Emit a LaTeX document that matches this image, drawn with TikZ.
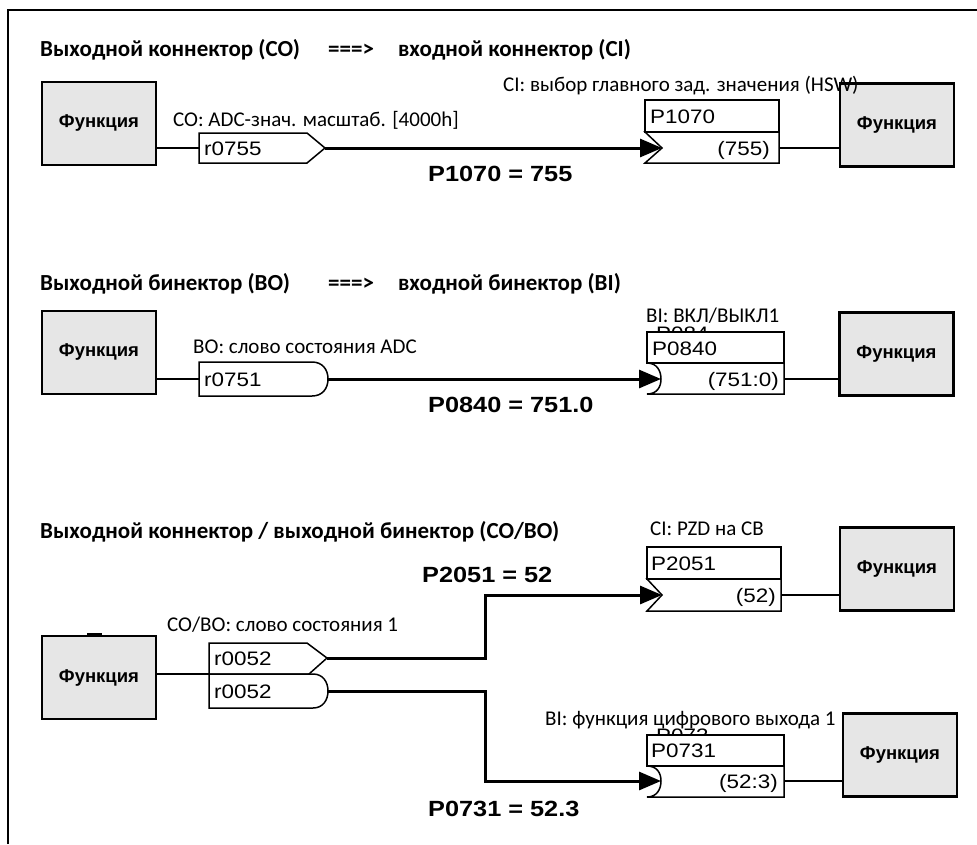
\documentclass[tikz,border=0pt]{standalone}
\usepackage{fontspec}
\setmainfont{Carlito}
\newfontfamily\arialw[FakeStretch=1.15]{Liberation Sans}
\newfontfamily\arialf{Liberation Sans}
\usetikzlibrary{arrows.meta}
\definecolor{funcgray}{RGB}{230,230,230}
\begin{document}
\begin{tikzpicture}[x=1pt,y=-1pt,
 func/.style={draw=black,line width=2.2pt,fill=funcgray,minimum width=114pt,minimum height=83pt,inner sep=0pt,font=\arialf\bfseries\fontsize{18.5}{20}\selectfont},
 conn/.style={line width=3pt},
 thinline/.style={line width=1.5pt},
 lead/.style={line width=2pt},
 pshape/.style={draw=black,line width=1.5pt,fill=white},
 arr/.style={-{Triangle[length=22pt,width=18pt]}},
 code/.style={font=\arialw\fontsize{19.5}{22}\selectfont,inner sep=0pt},
 eqn/.style={font=\arialw\bfseries\fontsize{22}{24}\selectfont,inner sep=0pt},
 lbl/.style={font=\fontsize{21}{23}\selectfont,inner sep=0pt},
 ttl/.style={font=\bfseries\fontsize{23}{25}\selectfont,inner sep=0pt},
]
\useasboundingbox (0,0) rectangle (977,844);
\fill[white] (0,0) rectangle (977,844);
% frame
\draw[line width=2.5pt] (8,844) -- (8,10) -- (977,10);

% ===== Section 1 =====
\node[ttl,anchor=base west] (t1a) at (40,56) {Выходной коннектор (CO)};
\node[ttl,anchor=base west] (t1b) at (328,56) {===>};
\node[ttl,anchor=base west] (t1c) at (398,56) {входной коннектор (CI)};

\node[func] (f1) at (99,123.5) {Функция};
\node[func] (f2) at (897,125) {Функция};

\node[lbl,anchor=base west] (l1) at (173,126) {CO: ADC-знач. масштаб. [4000h]};

\coordinate (co1in) at (199,148);
\coordinate (co1out) at (325,148);
\draw[pshape] (199,133) -- (307,133) -- (co1out) -- (307,163) -- (199,163) -- cycle;
\node[code,anchor=base west] (r1) at (204,155) {r0755};
\draw[lead] (f1.east |- co1in) -- (co1in);

\coordinate (ci1tip) at (662,148);
\coordinate (ci1out) at (779,148);
\draw[pshape] (645,100) rectangle (779,132);
\draw[pshape] (645,132) -- (779,132) -- (779,163) -- (645,163) -- (ci1tip) -- cycle;
\node[code,anchor=base west] (p1) at (650,123) {P1070};
\node[code,anchor=base east] (v1) at (770,155) {(755)};
\draw[conn,arr] (co1out) -- (ci1tip);
\draw[thinline] (ci1out) -- (f2.west |- ci1out);
\node[lbl,anchor=base west] (l2) at (503,91) {CI: выбор главного зад. значения (HSW)};
\node[eqn,anchor=base west] (e1) at (428,181) {P1070 = 755};

% ===== Section 2 =====
\node[ttl,anchor=base west] (t2a) at (40,290) {Выходной бинектор (BO)};
\node[ttl,anchor=base west] (t2b) at (328,290) {===>};
\node[ttl,anchor=base west] (t2c) at (398,290) {входной бинектор (BI)};

\node[func] (f3) at (99,352.5) {Функция};
\node[func] (f4) at (896.5,354) {Функция};

\node[lbl,anchor=base west] (l3) at (193,353) {BO: слово состояния ADC};
\coordinate (bo1in) at (199,379);
\coordinate (bo1out) at (328,379);
\draw[pshape] (199,362) -- (312,362) .. controls (322,362) and (328,369) .. (bo1out) .. controls (328,389) and (322,396) .. (312,396) -- (199,396) -- cycle;
\node[code,anchor=base west] (r2) at (204,386) {r0751};
\draw[lead] (f3.east |- bo1in) -- (bo1in);

\node[lbl,anchor=base west] (l4) at (646,322) {BI: ВКЛ/ВЫКЛ1};
\node[code,anchor=base west] (h1) at (656,340) {P084};
\coordinate (bi1tip) at (661,379);
\coordinate (bi1out) at (784,379);
\draw[pshape] (647,332) rectangle (784,363);
\draw[pshape] (647,363) -- (784,363) -- (784,394) -- (647,394) .. controls (657,394) and (661,387) .. (bi1tip) .. controls (661,371) and (657,363) .. (647,363) -- cycle;
\node[code,anchor=base west] (p2) at (652,355) {P0840};
\node[code,anchor=base east] (v2) at (779,386) {(751:0)};
\draw[conn,arr] (bo1out) -- (bi1tip);
\draw[thinline] (bi1out) -- (f4.west |- bi1out);
\node[eqn,anchor=base west] (e2) at (428,412) {P0840 = 751.0};

% ===== Section 3 =====
\node[ttl,anchor=base west] (t3) at (40,538) {Выходной коннектор / выходной бинектор (CO/BO)};

\node[func] (f5) at (99,677.5) {Функция};
\draw[line width=2pt] (87,633.5) -- (102,633.5);
\node[func] (f6) at (897,569) {Функция};
\node[func] (f7) at (900,755) {Функция};

\node[lbl,anchor=base west] (l5) at (167,631) {CO/BO: слово состояния 1};
\coordinate (co2in) at (209,674);
\coordinate (co2out) at (327,658);
\coordinate (bo2out) at (328,691);
\draw[pshape] (209,643) -- (307,643) -- (co2out) -- (309,674) -- (209,674) -- cycle;
\draw[pshape] (209,674) -- (313,674) .. controls (323,674) and (328,682) .. (bo2out) .. controls (328,700) and (323,708) .. (313,708) -- (209,708) -- cycle;
\node[code,anchor=base west] (r3) at (214,665) {r0052};
\node[code,anchor=base west] (r4) at (214,698) {r0052};
\draw[lead] (f5.east |- co2in) -- (co2in);

% upper branch
\node[lbl,anchor=base west] (l6) at (650,535) {CI: PZD на CB};
\coordinate (ci2tip) at (662,595);
\coordinate (ci2out) at (781,595);
\draw[pshape] (647,547) rectangle (781,579);
\draw[pshape] (647,579) -- (781,579) -- (781,611) -- (647,611) -- (ci2tip) -- cycle;
\node[code,anchor=base west] (p3) at (651,570) {P2051};
\node[code,anchor=base east] (v3) at (776,602) {(52)};
\coordinate (j1) at (485,658);
\coordinate (j2) at (485,595);
\draw[conn,arr] (co2out) -- (j1) -- (j2) -- (ci2tip);
\draw[thinline] (ci2out) -- (f6.west |- ci2out);
\node[eqn,anchor=base west] (e3) at (422,582) {P2051 = 52};

% lower branch
\node[lbl,anchor=base west] (l7) at (545,725) {BI: функция цифрового выхода 1};
\node[code,anchor=base west] (h2) at (656,742) {P073};
\coordinate (bi2tip) at (661,781);
\coordinate (bi2out) at (784,781);
\draw[pshape] (647,735) rectangle (784,766);
\draw[pshape] (647,766) -- (784,766) -- (784,797) -- (647,797) .. controls (657,797) and (661,789) .. (bi2tip) .. controls (661,773) and (657,766) .. (647,766) -- cycle;
\node[code,anchor=base west] (p4) at (651,757) {P0731};
\node[code,anchor=base east] (v4) at (778,788) {(52:3)};
\coordinate (j3) at (485,691);
\coordinate (j4) at (485,781);
\draw[conn,arr] (bo2out) -- (j3) -- (j4) -- (bi2tip);
\draw[thinline] (bi2out) -- (f7.west |- bi2out);
\node[eqn,anchor=base west] (e4) at (428,816) {P0731 = 52.3};
\end{tikzpicture}
\end{document}
